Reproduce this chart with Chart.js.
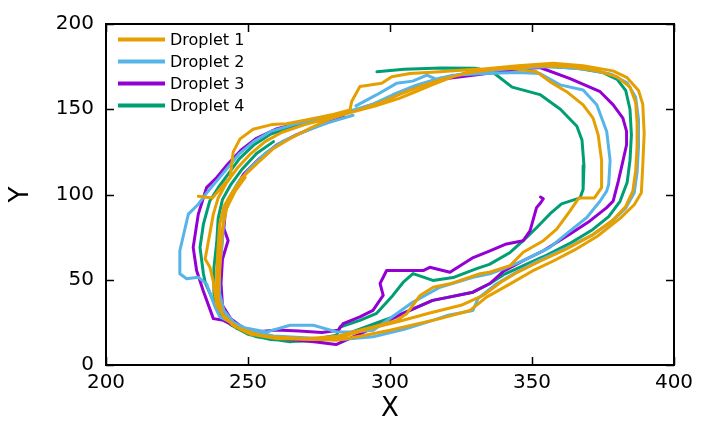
<!DOCTYPE html>
<html>
<head>
<meta charset="utf-8">
<script src="https://cdn.jsdelivr.net/npm/chart.js@4.4.1/dist/chart.umd.min.js"></script>
<style>
  html, body { margin: 0; padding: 0; background: #fff; }
</style>
</head>
<body>
<canvas id="c" width="708" height="427"></canvas>
<script>
// droplet trajectories, [x, y] pairs
const droplet1 = [
  [232.5,99],[237.5,98],[240.5,104],[243.7,110],[244.8,125],[247.2,132.6],[251.8,138.3],[258.3,141],[263.6,141.5],
  [270,143.5],[280,147],[285.9,149.6],[286.5,154.5],[289.4,163.3],[297.1,165.2],[300.6,169.1],[307,171],[317.6,172],
  [330,173.5],[342,174],[351.6,172],[356.3,166.2],[362.2,160.3],[368,152.6],[371.5,144.8],[373.3,135],[374.5,120],
  [374.5,104],[372,98],[366.5,98],[363.4,90.4],[358.7,79.7],[354,72.9],[346.9,66.1],[342.3,58.3],[335,54.4],
  [331.7,53.5],[321.1,47.6],[315.2,45.6],[310.6,40.8],[305.9,30.1],[302.3,26.2],[294.1,22.3],[289.4,20.4],[282,17],
  [272,15.5],[262,16],[254,17.5],[247,21.5],[242,27],[239,35],[237.7,49.6],[236.6,57.3],[234.9,62.2],[236,72],
  [237.8,88.5],[239.5,98],[242.5,107],[246.5,116],[251,124],[256,131],[262,136.5],[270,141],[279,145],[288,149],
  [296,153.5],[303,158.5],[310,163],[318,167.5],[328,171.5],[340,174],[352,175.5],[363,175],[373,172.5],[380,169],
  [384.5,163],[386.5,154],[387,142],[387,128],[386.5,114],[385.5,102],[383,93],[378.5,85],[371,76],[362,68],
  [353,61],[345,54.5],[339,48.5],[333,41],[325,35],[314,30.5],[303,25.5],[292,21],[283,16.5],[272,15],[260,15.5],
  [251,18],[245,23],[241,30],[239,40],[239,55],[239.5,70],[240,82],[241.5,93],[244,100],[248,110],[253,118],
  [259,127],[265,133],[272,139],[279,144.5],[286,148],[295,152],[303.5,156.5],[310,161],[315,164.5],[322,169],
  [332,173.5],[345,175.5],[357.5,177],[368,175.5],[378.5,172.5],[383.5,168.5],[387.5,161],[389,153],[389.5,136],
  [389,117],[388.5,101],[386,94],[381,86],[373,75.5],[365,67.5],[357.5,61],[350,55],[342.3,47.6],[334,39.8],
  [328.2,32],[317.6,27.2],[300,20.4],[290,17],[281,14.5],[270,15.5],[258,16.5],[250,19],[244.5,23.5],[241,30],
  [239.5,40],[240,55],[240.5,68],[241,80],[242.5,92],[245.5,102],[249,110]
];
const droplet2 = [
  [288,152],[295.2,158.4],[302.3,165.2],[308,166.5],[313,170],[316.4,167.5],[322,170],[333,171],[345,171.5],
  [352.8,171],[359.9,164.3],[368,161.3],[372.8,152.6],[376.3,137],[377.5,120],[377,106],[376.3,102],[374,96.2],
  [369.3,86.5],[363.4,78.7],[356.3,69],[346.9,61.2],[339.9,56.4],[335.2,53.5],[329.2,51.4],[317.6,45.6],[308.1,36.9],
  [302.3,30.1],[294.1,20.4],[287,19.5],[281.2,19.4],[273,23.3],[264.8,23.3],[256.6,19.4],[247.2,22.3],[240.1,28.2],
  [238.4,34],[235.4,47.6],[232.5,51.5],[228.4,50.6],[226,53.5],[226,67],[229,88.5],[232.5,94.3],[235.5,101],
  [239,108],[243,116],[247,124],[252,131],[258,137],[266,141],[276,145],[286,149],[294,153],[301,158.5],[309,164],
  [318,168.5],[330,172],[344,174],[357,175],[369,173.5],[378,170.5],[383.5,165.5],[386.5,157],[387.5,144],
  [387.5,128],[387,113],[386,101],[383,92],[378,84],[371,76],[362,68.5],[352,61],[344,54],[337,47],[331,39],
  [329.2,32],[320,29],[315.1,26.2],[305,21],[294,16.5],[283,15],[270,16],[259,17],[251,20],[245,25],[241.5,32],
  [240,42],[240,57],[241,72],[241.5,86],[243,97],[246.5,107],[251,116],[256,124],[262,131],[270,137],[278,142],
  [287,146.5]
];
const droplet3 = [
  [353,98.5],[354,97.5],[353,95],[351.6,92.3],[349.3,78.7],[346.9,72.9],[341,71],[335.2,67],[329.3,63],[321.1,54.4],
  [314,57.3],[311.7,55.4],[298.8,55.4],[296.5,47.8],[297.6,40.8],[294,32],[289.4,28.2],[284.8,25.2],[283.5,24.3],
  [281.8,20.4],[276,19],[268,20],[260,20.5],[253,19.4],[245,23],[241.3,26.2],[237.8,27.2],[234.2,43.7],[231.9,55.4],
  [230.7,69],[232.5,88.5],[235.4,104],[239,110],[243,118],[247.5,126],[253,133],[260,138.5],[268,142],[278,145.5],
  [288,149.5],[296,154],[303,159.5],[311,164.5],[320,168],[332,170.5],[343,173],[352.8,174.5],[363.4,168],
  [374,160.3],[378.6,152.6],[382,144.8],[383.3,137],[383.3,129.2],[382,119.5],[380.4,107.9],[378.6,96.2],
  [376.3,92.3],[370.4,84.5],[363.4,76.8],[354,67],[346.9,61.2],[340,55],[335.2,47.8],[329.2,42.7],[320,39.5],
  [315,37.9],[304.6,30.3],[297,24],[289,18],[281,12],[274,13.5],[265,15],[256,17],[249,21],[244,27],[241,35],
  [240.5,48],[241,62],[243,73],[241.5,80],[242,90],[244.5,101],[248.5,112],[254,121],[260,129],[267,135],
  [275,140.5],[284,145.5]
];
const droplet4 = [
  [295.4,172],[305,173.5],[318,174.2],[330,174],[336,172],[343,163],[352.8,158.6],[360,150],[365.8,140],[367.6,132],
  [368.3,117],[368,103],[366.9,98],[360.4,94.5],[356.3,88.6],[351.6,80.5],[346.9,72.9],[342.3,66],[335,59],
  [330.5,56.5],[322.2,51.3],[315.1,49.6],[308.1,53.6],[304.6,48.4],[301,40.8],[295.3,30.3],[289.4,26.2],[282.4,22.3],
  [281.2,17.5],[273,15],[264.8,13.6],[253,16.5],[246,21.5],[242.5,27.4],[237.7,37.9],[235,48],[234.3,53.5],
  [233.1,69],[234.3,82.6],[236.5,96],[239.5,104],[243,112],[247,121],[252,129],[258,135.5],[266,140],[276,144.5],
  [286,148.5],[295,153],[302,158.5],[310,164],[319,168.5],[330,172],[342,174],[355,175],[366,174],[375,171.5],
  [380,167.5],[383,161],[384.5,150],[385,135],[384.5,120],[383.5,107],[381,96],[377,87],[371,79],[363,71],
  [354,63.5],[346,57.5],[340,53],[335.2,47.8],[329.2,42.7],[315,37.9],[304.6,30.3],[295,24.5],[286,19],[279,15],
  [268,14],[258,15],[250,18],[244,23.5],[240,31],[238,42],[238,57],[239,72],[239.5,86],[241,97],[244,106],
  [248,115],[253,124],[259,131]
];

const labels = ['Droplet 1', 'Droplet 2', 'Droplet 3', 'Droplet 4'];
const colors = ['#e69f00', '#56b4e9', '#9400d3', '#009e73'];
const xTicks = [200, 250, 300, 350, 400];
const yTicks = [0, 50, 100, 150, 200];

const FONT = 'DejaVu Sans';
const tracks = [droplet1, droplet2, droplet3, droplet4];

// inward ticks on all four sides + box
const frameTicks = {
  id: 'frameTicks',
  afterDatasetsDraw(chart) {
    const { ctx, chartArea: a, scales: { x, y } } = chart;
    ctx.save();
    ctx.strokeStyle = '#000';
    ctx.lineWidth = 1.5;
    ctx.beginPath();
    xTicks.forEach(v => {
      const px = Math.round(x.getPixelForValue(v)) + 0.5;
      ctx.moveTo(px, a.bottom); ctx.lineTo(px, a.bottom - 8);
      ctx.moveTo(px, a.top); ctx.lineTo(px, a.top + 8);
    });
    yTicks.forEach(v => {
      const py = Math.round(y.getPixelForValue(v)) + 0.5;
      ctx.moveTo(a.left, py); ctx.lineTo(a.left + 8, py);
      ctx.moveTo(a.right, py); ctx.lineTo(a.right - 8, py);
    });
    ctx.stroke();
    ctx.lineWidth = 2;
    ctx.strokeRect(a.left, a.top, a.right - a.left, a.bottom - a.top);
    ctx.restore();
  }
};

// legend inside top-left
const innerLegend = {
  id: 'innerLegend',
  afterDraw(chart) {
    const { ctx, chartArea: a } = chart;
    ctx.save();
    ctx.font = '16px "' + FONT + '"';
    ctx.textBaseline = 'middle';
    ctx.fillStyle = '#000';
    chart.data.datasets.forEach((ds, i) => {
      const yy = a.top + 15.5 + i * 22;
      ctx.strokeStyle = ds.borderColor;
      ctx.lineWidth = 4;
      ctx.beginPath();
      ctx.moveTo(a.left + 12, yy);
      ctx.lineTo(a.left + 59, yy);
      ctx.stroke();
      ctx.fillText(ds.label, a.left + 64, yy + 1);
    });
    ctx.restore();
  }
};

new Chart(document.getElementById('c'), {
  type: 'scatter',
  data: {
    datasets: tracks.map((t, i) => ({
      label: labels[i],
      data: t.map(p => ({ x: p[0], y: p[1] })),
      showLine: true,
      borderColor: colors[i],
      backgroundColor: colors[i],
      borderWidth: 3,
      pointRadius: 0,
      borderJoinStyle: 'round',
      borderCapStyle: 'round',
      tension: 0
    }))
  },
  options: {
    responsive: false,
    animation: false,
    layout: { padding: { top: 22, right: 34, left: 0, bottom: 0 } },
    plugins: {
      legend: { display: false },
      tooltip: { enabled: false }
    },
    scales: {
      x: {
        type: 'linear',
        min: 200, max: 400,
        afterBuildTicks: s => { s.ticks = xTicks.map(v => ({ value: v })); },
        afterFit: s => { s.height = 62; },
        grid: { display: false, drawTicks: false },
        border: { display: false },
        ticks: { color: '#000', padding: 6, font: { family: FONT, size: 20 } },
        title: { display: true, text: 'X', color: '#000', padding: { bottom: 2, top: 0 }, font: { family: FONT, size: 26 } }
      },
      y: {
        type: 'linear',
        min: 0, max: 200,
        afterBuildTicks: s => { s.ticks = yTicks.map(v => ({ value: v })); },
        afterFit: s => { s.width = 106; },
        grid: { display: false, drawTicks: false },
        border: { display: false },
        ticks: { color: '#000', padding: 12, font: { family: FONT, size: 20 } },
        title: { display: true, text: 'Y', color: '#000', padding: { top: 6, bottom: 0 }, font: { family: FONT, size: 26 } }
      }
    }
  },
  plugins: [frameTicks, innerLegend]
});
</script>
</body>
</html>
